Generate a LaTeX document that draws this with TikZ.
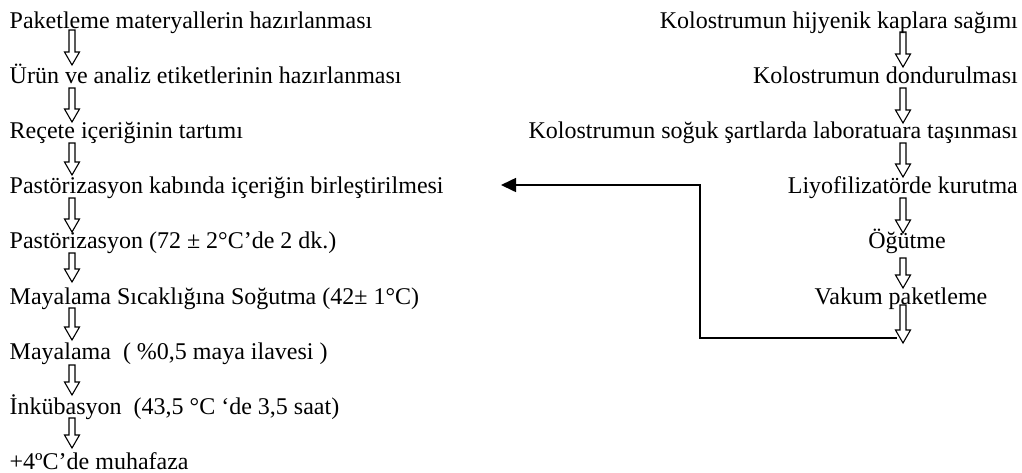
\documentclass[tikz,border=0pt]{standalone}
\usepackage{fontspec}
\setmainfont{Liberation Serif}
\usetikzlibrary{arrows.meta}

\newcommand\flowfont{\fontsize{24}{29}\selectfont}

% hollow block arrow: x centre, top, bottom
\newcommand\hollowarrow[3]{%
  \draw[hollow] (#1-3,#2) -- (#1+3,#2) -- (#1+3,#3-13) -- (#1+7.5,#3-13)
    -- (#1,#3) -- (#1-7.5,#3-13) -- (#1-3,#3-13) -- cycle;}

\tikzset{
  lefttext/.style={anchor=base west, inner sep=0pt, font=\flowfont},
  righttext/.style={anchor=base east, inner sep=0pt, font=\flowfont},
  midtext/.style={anchor=base, inner sep=0pt, font=\flowfont},
  hollow/.style={draw=black, line width=1.1pt, line join=miter},
  feedback/.style={draw=black, line width=1.6pt,
    -{Triangle[length=15pt,width=14pt]}},
}

\begin{document}
\begin{tikzpicture}[x=1pt,y=-1pt]
\fill[white] (0,0) rectangle (1022,472);
\useasboundingbox (0,0) rectangle (1022,472);

% left process chain
\node[lefttext] (L1) at (9.5,28.5)  {Paketleme materyallerin hazırlanması};
\node[lefttext] (L2) at (9.5,83.6)  {Ürün ve analiz etiketlerinin hazırlanması};
\node[lefttext] (L3) at (9.5,138.7) {Reçete içeriğinin tartımı};
\node[lefttext] (L4) at (9.5,193.8) {Pastörizasyon kabında içeriğin birleştirilmesi};
\node[lefttext] (L5) at (9.5,248.9) {Pastörizasyon (72 ± 2°C’de 2 dk.)};
\node[lefttext] (L6) at (9.5,304.0) {Mayalama Sıcaklığına Soğutma (42± 1°C)};
\node[lefttext] (L7) at (9.5,359.1) {Mayalama\ \ ( \%0,5 maya ilavesi )};
\node[lefttext] (L8) at (9.5,414.2) {İnkübasyon\ \ (43,5 °C ‘de 3,5 saat)};
\node[lefttext] (L9) at (9.5,469.3) {+4ºC’de muhafaza};

% right process chain
\node[righttext] (R1) at (1018,28.5)  {Kolostrumun hijyenik kaplara sağımı};
\node[righttext] (R2) at (1018,83.6)  {Kolostrumun dondurulması};
\node[righttext] (R3) at (1018,138.7) {Kolostrumun soğuk şartlarda laboratuara taşınması};
\node[righttext] (R4) at (1018,193.8) {Liyofilizatörde kurutma};
\node[midtext]   (R5) at (907,248.9)  {Öğütme};
\node[midtext]   (R6) at (901,304.0)  {Vakum paketleme};

% step arrows, left
\hollowarrow{72}{30}{65}
\hollowarrow{72}{88}{122}
\hollowarrow{72}{143}{175}
\hollowarrow{72}{198}{232}
\hollowarrow{72}{253}{282}
\hollowarrow{72}{308}{340}
\hollowarrow{72}{365}{395}
\hollowarrow{72}{418}{448}

% step arrows, right
\hollowarrow{903}{32}{67}
\hollowarrow{903}{88}{123}
\hollowarrow{903}{143}{177}
\hollowarrow{903}{198}{233}
\hollowarrow{903}{258}{288}
\hollowarrow{903}{305}{343}

% colostrum powder fed into the mixing step
\coordinate (fbstart) at (897,338);
\coordinate (fbturn) at (700,338);
\coordinate (fbtip) at (501,185);
\draw[feedback] (fbstart) -- (fbturn) |- (fbtip);
\end{tikzpicture}
\end{document}
